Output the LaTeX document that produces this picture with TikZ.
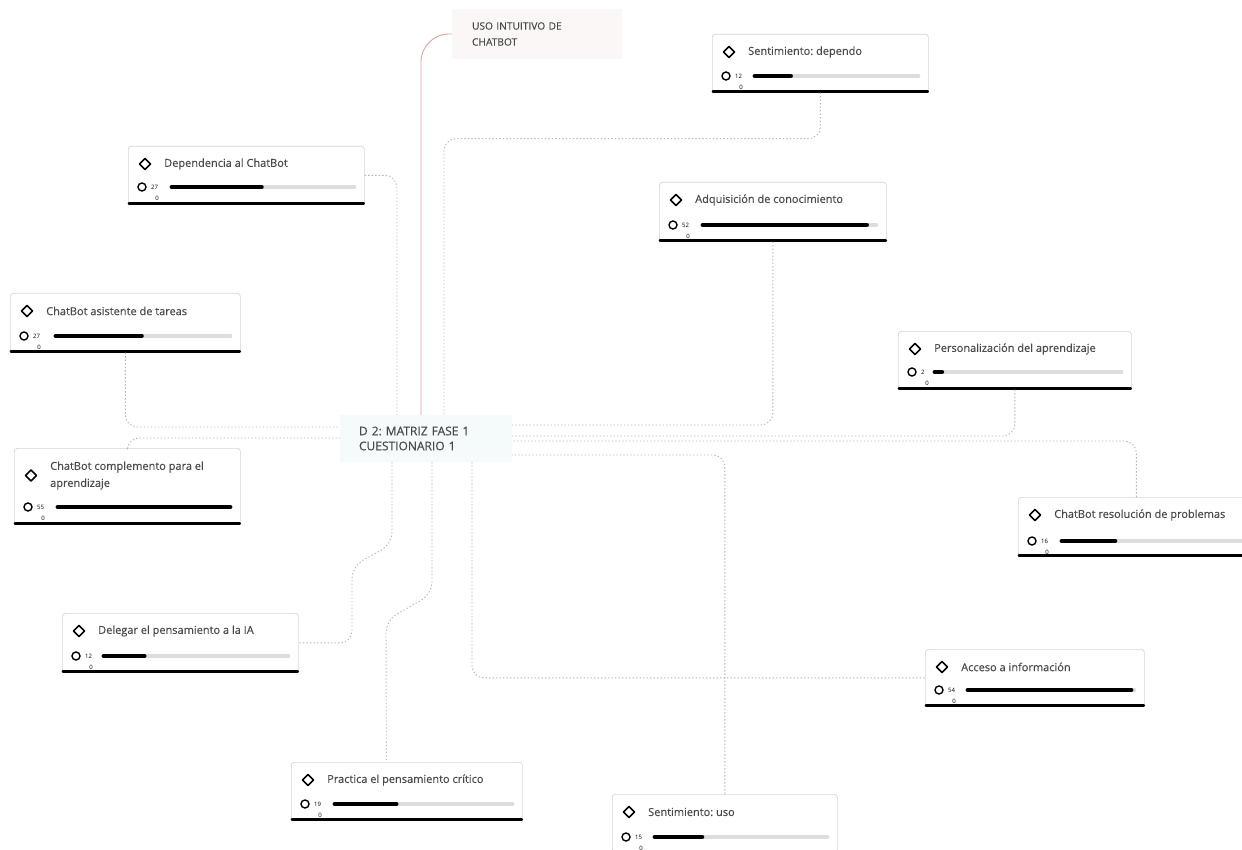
\documentclass[tikz,border=0pt]{standalone}
\usepackage{fontspec}
\setmainfont{Open Sans}
\newfontfamily\tfont[FakeBold=0.3]{Open Sans}
\usetikzlibrary{calc}
\definecolor{txt}{HTML}{4A4A4A}
\definecolor{edgecol}{HTML}{D4D4D4}
\definecolor{conncol}{HTML}{B3B3B3}
\definecolor{bargrey}{HTML}{DDDDDD}
\definecolor{redl}{HTML}{E6A0A0}
\definecolor{rootfill}{HTML}{F5FAFA}
\definecolor{usofill}{HTML}{FCF7F7}

\newcommand{\mcard}[9]{%
  \node[card, minimum width=#4pt, minimum height=#5pt] (#1) at (#2,#3) {};
  \pgfmathsetmacro{\ty}{#9>50 ? 27.5 : 18}
  \pgfmathsetmacro{\blen}{(#4-10-#8)*#7/55}
  \draw[botline] ([xshift=0.8pt,yshift=1.2pt]#1.south west) -- ([xshift=-0.8pt,yshift=1.2pt]#1.south east);
  \draw[diam] ([shift={(17,\ty)}]#1.north west) +(-5.5,0) -- +(0,-5.5) -- +(5.5,0) -- +(0,5.5) -- cycle;
  \node[ttl] (#1-t) at ([shift={(36,\ty)}]#1.north west) {#6};
  \draw[circ] ([shift={(14,#9)}]#1.north west) circle (4pt);
  \node[cnt, anchor=west] (#1-c) at ([shift={(23,#9)}]#1.north west) {#7};
  \node[cnt] (#1-z) at ([shift={(29,#9+11)}]#1.north west) {0};
  \draw[barback] ([shift={(#8,#9)}]#1.north west) -- ([shift={(#4-10,#9)}]#1.north west);
  \draw[barfront] ([shift={(#8,#9)}]#1.north west) -- ([shift={(#8+\blen,#9)}]#1.north west);
}

\begin{document}
\frenchspacing
\begin{tikzpicture}[x=1pt,y=-1pt,
  card/.style={draw=edgecol, line width=0.7pt, fill=white, rounded corners=3pt, anchor=north west, inner sep=0pt},
  botline/.style={line width=2.4pt, black, line cap=round},
  diam/.style={line width=1.5pt, black, line join=round},
  circ/.style={line width=1.4pt, black},
  ttl/.style={anchor=west, align=left, inner sep=0pt, text=txt, font=\tfont\fontsize{11}{17}\selectfont},
  cnt/.style={inner sep=0pt, text=black, font=\fontsize{6}{6}\selectfont},
  barback/.style={line width=4.8pt, bargrey, line cap=round},
  barfront/.style={line width=4.8pt, black, line cap=round},
  conn/.style={draw=conncol, line width=0.9pt, dash pattern=on 1.3pt off 2.2pt, rounded corners=12pt},
  redconn/.style={draw=redl, line width=0.9pt, rounded corners=28pt},
  rootbox/.style={fill=rootfill, minimum width=172pt, minimum height=47pt, text width=134pt, inner xsep=19pt, align=left, text=txt, font=\tfont\fontsize{12}{15}\selectfont},
  usobox/.style={fill=usofill, minimum width=170pt, minimum height=50pt, text width=130pt, inner xsep=20pt, align=left, text=txt, font=\tfont\fontsize{10.2}{16}\selectfont}
]
\clip (0,0) rectangle (1242,850);
\fill[white] (0,0) rectangle (1242,850);

% central and top nodes
\node[rootbox] (root) at (426,438.5) {D 2: MATRIZ FASE 1\\CUESTIONARIO 1};
\node[usobox] (uso) at (537,34) {USO INTUITIVO DE\\CHATBOT};

% cards
\mcard{sdep}{712}{34}{216}{58}{Sentimiento: dependo}{12}{43}{42}
\mcard{dep}{128}{146}{236}{58}{Dependencia al ChatBot}{27}{44}{41}
\mcard{adq}{659}{182}{227}{59}{Adquisición de conocimiento}{52}{44}{43}
\mcard{asist}{10}{293}{230}{59}{ChatBot asistente de tareas}{27}{46}{43}
\mcard{pers}{898}{331}{233}{58}{Personalización del aprendizaje}{2}{37}{41}
\mcard{comp}{14}{448}{226}{76}{ChatBot complemento para el\\aprendizaje}{55}{44}{59}
\mcard{res}{1018}{497}{236}{59}{ChatBot resolución de problemas}{16}{44}{44}
\mcard{deleg}{62}{613}{236}{59}{Delegar el pensamiento a la IA}{12}{42}{43}
\mcard{acc}{925}{649}{219}{57}{Acceso a información}{54}{43}{41}
\mcard{prac}{291}{762}{231}{58}{Practica el pensamiento crítico}{19}{44}{42}
\mcard{suso}{612}{794}{225}{58}{Sentimiento: uso}{15}{43}{43}

% attachment points on the central node
\coordinate (r-n1) at ([xshift=-29pt]root.north);
\coordinate (r-n2) at ([xshift=-5pt]root.north);
\coordinate (r-n3) at ([xshift=18pt]root.north);
\coordinate (r-e1) at ([yshift=13.5pt]root.east);
\coordinate (r-e2) at ([yshift=2.5pt]root.east);
\coordinate (r-e3) at ([yshift=-2.5pt]root.east);
\coordinate (r-e4) at ([yshift=-16.5pt]root.east);
\coordinate (r-w1) at ([yshift=11.5pt]root.west);
\coordinate (r-w2) at ([yshift=0.5pt]root.west);
\coordinate (r-s1) at ([xshift=-34pt]root.south);
\coordinate (r-s2) at ([xshift=6pt]root.south);
\coordinate (r-s3) at ([xshift=46pt]root.south);

% connectors
\draw[redconn] (uso.west) -| (r-n2);
\draw[conn] (dep.east) -| (r-n1);
\draw[conn] (sdep.south) -- ++(0,46) -| (r-n3);
\draw[conn] (adq.south) |- (r-e1);
\draw[conn] (pers.south) |- (r-e2);
\draw[conn] (res.north) |- (r-e3);
\draw[conn] (suso.north) |- (r-e4);
\draw[conn] (asist.south) |- (r-w1);
\draw[conn] (comp.north) |- (r-w2);
\draw[conn] (r-s1) -- ++(0,82) -- ++(-40,22) |- (deleg.east);
\draw[conn] (r-s2) -- ++(0,132) -- ++(-46,26) -- ([xshift=-20.5pt]prac.north);
\draw[conn] (r-s3) |- (acc.west);
\end{tikzpicture}
\end{document}
